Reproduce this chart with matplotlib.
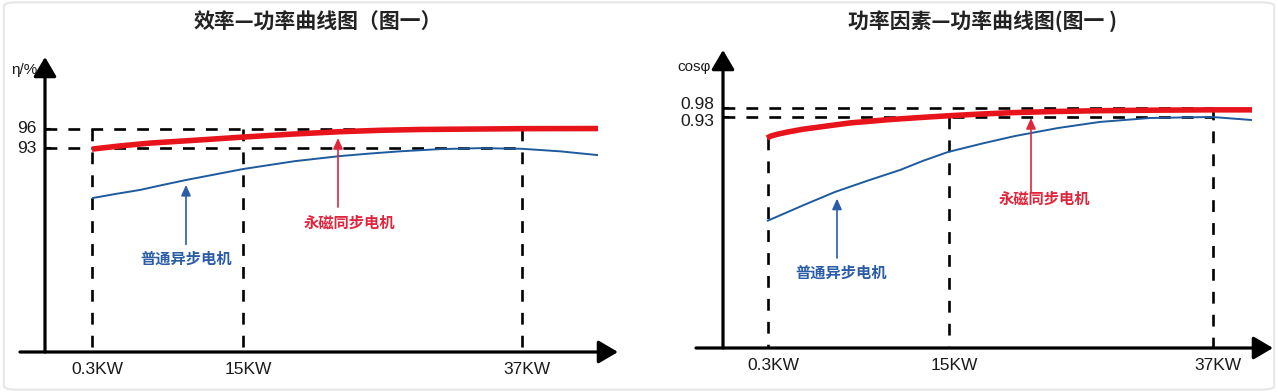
import matplotlib
matplotlib.use('Agg')
import matplotlib.pyplot as plt
from matplotlib.transforms import ScaledTranslation
from matplotlib.patches import FancyBboxPatch

plt.rcParams['font.family'] = ['Liberation Sans', 'Noto Sans CJK SC', 'DejaVu Sans']
plt.rcParams['lines.scale_dashes'] = False
CJK = ['Noto Sans CJK SC', 'DejaVu Sans']

# ---------------- data: efficiency chart ----------------
eff_title = '效率—功率曲线图（图一）'
eff_ylabel = 'η/%'
eff_xlim = (0, 573)
eff_ylim = (60.8, 107.4)
eff_tick_pos = [47, 198, 477]
eff_tick_labels = ['0.3KW', '15KW', '37KW']
eff_yticks = [93, 96]
eff_ytick_labels = ['93', '96']
eff_pm_x = [47, 75, 105, 130, 155, 198, 245, 295, 335, 375, 415, 477, 553]
eff_pm_y = [92.85, 93.35, 93.8, 94.05, 94.3, 94.75, 95.2, 95.6, 95.82, 95.95, 96.0, 96.08, 96.1]
eff_im_x = [47, 70, 95, 118, 142, 170, 198, 225, 250, 295, 325, 355, 395, 435, 477, 515, 553]
eff_im_y = [85.1, 85.75, 86.4, 87.2, 88.0, 88.85, 89.7, 90.35, 90.95, 91.75, 92.15, 92.5, 92.85,
            93.0, 92.9, 92.5, 91.9]
eff_vline_top = [96, 96, 96]
eff_im_arrow = (141, 77.8, 87.2)      # x, from, to
eff_im_label = (141, 75.6)
eff_pm_arrow = (293, 83.7, 94.6)
eff_pm_label = (304, 81.3)

# ---------------- data: power factor chart ----------------
pf_title = '功率因素—功率曲线图(图一 )'
pf_ylabel = 'cosφ'
pf_xlim = (0, 550)
pf_ylim = (-0.429, 1.324)
pf_tick_pos = [45, 226, 490]
pf_tick_labels = ['0.3KW', '15KW', '37KW']
pf_yticks = [0.93, 0.98]
pf_ytick_labels = ['0.93', '0.98']
pf_pm_x = [44, 48, 54, 65, 80, 99, 127, 165, 195, 225, 260, 292, 330, 377, 430, 489, 529]
pf_pm_y = [0.806, 0.818, 0.828, 0.842, 0.858, 0.873, 0.895, 0.914, 0.926, 0.937, 0.948, 0.956,
           0.962, 0.967, 0.970, 0.972, 0.972]
pf_im_x = [44, 80, 112, 145, 177, 200, 225, 260, 292, 335, 377, 427, 489, 529]
pf_im_y = [0.318, 0.41, 0.489, 0.556, 0.618, 0.672, 0.724, 0.775, 0.818, 0.865, 0.901, 0.924,
           0.930, 0.912]
pf_vline_top = [0.806, 0.93, 0.98]
pf_im_arrow = (114, 0.10, 0.45)
pf_im_label = (118, 0.012)
pf_pm_arrow = (308, 0.49, 0.924)
pf_pm_label = (321, 0.447)

im_name = '普通异步电机'
pm_name = '永磁同步电机'

RED = '#e8141c'
BLUE = '#1d5a9e'
RED_TXT = '#e0263c'
BLUE_TXT = '#2a5ca8'
DASH = dict(color='black', lw=1.9, dashes=(8.5, 8.0))

W, H = 1278, 392
fig = plt.figure(figsize=(W / 100, H / 100), dpi=100)
fig.patches.append(FancyBboxPatch((0.003, 0.006), 0.994, 0.988, boxstyle='round,pad=0,rounding_size=0.01',
                                  transform=fig.transFigure, fc='none', ec='#e6e6e6', lw=1.5))


def panel(rect, xlim, ylim, tick_pos, tick_labels, yticks, ytick_labels, ylabel,
          pm_x, pm_y, im_x, im_y, vtop, im_arrow, im_label, pm_arrow, pm_label,
          xaxis_start, ylabel_off, ytl_offsets):
    ax = fig.add_axes(rect)
    ax.set_xlim(*xlim)
    ax.set_ylim(*ylim)
    for s in ax.spines.values():
        s.set_visible(False)
    ax.patch.set_alpha(0)

    # axes with arrows
    ax.annotate('', xy=(xlim[1], ylim[0]), xytext=(xaxis_start, ylim[0]), annotation_clip=False,
                arrowprops=dict(arrowstyle='-|>,head_length=0.85,head_width=0.5', mutation_scale=14,
                                lw=2.3, color='black', shrinkA=0, shrinkB=0))
    ax.annotate('', xy=(0, ylim[1]), xytext=(0, ylim[0]), annotation_clip=False,
                arrowprops=dict(arrowstyle='-|>,head_length=0.85,head_width=0.5', mutation_scale=14,
                                lw=2.3, color='black', shrinkA=0, shrinkB=0))

    # dashed guides
    for yv in yticks:
        ax.plot([0, tick_pos[-1]], [yv, yv], zorder=2, **DASH)
    for xv, top in zip(tick_pos, vtop):
        ax.plot([xv, xv], [top, ylim[0]], zorder=2, **DASH)

    # curves
    ax.plot(im_x, im_y, color=BLUE, lw=1.4, zorder=3, solid_capstyle='butt', solid_joinstyle='round')
    ax.plot(pm_x, pm_y, color=RED, lw=4.0, zorder=4, solid_capstyle='butt', solid_joinstyle='round')

    # pointer arrows + labels
    ax.annotate('', xy=(im_arrow[0], im_arrow[2]), xytext=(im_arrow[0], im_arrow[1]),
                arrowprops=dict(arrowstyle='-|>,head_length=0.8,head_width=0.36', mutation_scale=8,
                                lw=1.2, color=BLUE_TXT, shrinkA=0, shrinkB=0), zorder=5)
    ax.text(im_label[0], im_label[1], im_name, family=CJK, fontsize=11, color=BLUE_TXT,
            ha='center', va='center', fontweight='bold')
    ax.annotate('', xy=(pm_arrow[0], pm_arrow[2]), xytext=(pm_arrow[0], pm_arrow[1]),
                arrowprops=dict(arrowstyle='-|>,head_length=0.8,head_width=0.36', mutation_scale=8,
                                lw=1.2, color=RED_TXT, shrinkA=0, shrinkB=0), zorder=5)
    ax.text(pm_label[0], pm_label[1], pm_name, family=CJK, fontsize=11, color=RED_TXT,
            ha='center', va='center', fontweight='bold')

    # ticks
    ax.set_xticks(tick_pos, tick_labels)
    ax.tick_params(axis='x', length=0, pad=7, labelsize=12.5, labelcolor='#1a1a1a')
    for lab in ax.get_xticklabels():
        lab.set_transform(lab.get_transform() + ScaledTranslation(5 / 100, 0, fig.dpi_scale_trans))
    ax.set_yticks(yticks, ytick_labels)
    ax.tick_params(axis='y', direction='in', length=4, width=1.5, pad=6, labelsize=12.5,
                   labelcolor='#1a1a1a')
    for lab, dy in zip(ax.get_yticklabels(), ytl_offsets):
        lab.set_transform(lab.get_transform() + ScaledTranslation(0, dy / 100, fig.dpi_scale_trans))

    ax.annotate(ylabel, xy=(0, 1), xycoords='axes fraction', xytext=ylabel_off,
                textcoords='offset pixels', ha='right', va='center', fontsize=11, color='#1a1a1a')
    return ax


# left panel: y-axis at x=45px, x-axis at y=352px, arrow tips at x=618 / y=57
panel([45 / W, 40 / H, 573 / W, 295 / H], eff_xlim, eff_ylim, eff_tick_pos, eff_tick_labels,
      eff_yticks, eff_ytick_labels, eff_ylabel, eff_pm_x, eff_pm_y, eff_im_x, eff_im_y,
      eff_vline_top, eff_im_arrow, eff_im_label, eff_pm_arrow, eff_pm_label,
      xaxis_start=-25, ylabel_off=(-7, -13), ytl_offsets=[1, 2])

# right panel: y-axis at x=723px, x-axis at y=348px, arrow tips at x=1273 / y=50
panel([723 / W, 44 / H, 550 / W, 298 / H], pf_xlim, pf_ylim, pf_tick_pos, pf_tick_labels,
      pf_yticks, pf_ytick_labels, pf_ylabel, pf_pm_x, pf_pm_y, pf_im_x, pf_im_y,
      pf_vline_top, pf_im_arrow, pf_im_label, pf_pm_arrow, pf_pm_label,
      xaxis_start=-27, ylabel_off=(-12, -17), ytl_offsets=[-3, 5])

fig.text(318 / W, 1 - 22 / H, eff_title, family=CJK, fontsize=15, ha='center', va='center',
         color='#222222', fontweight='bold')
fig.text(982 / W, 1 - 22 / H, pf_title, family=CJK, fontsize=15, ha='center', va='center',
         color='#222222', fontweight='bold')

fig.savefig('out.png', dpi=100)
